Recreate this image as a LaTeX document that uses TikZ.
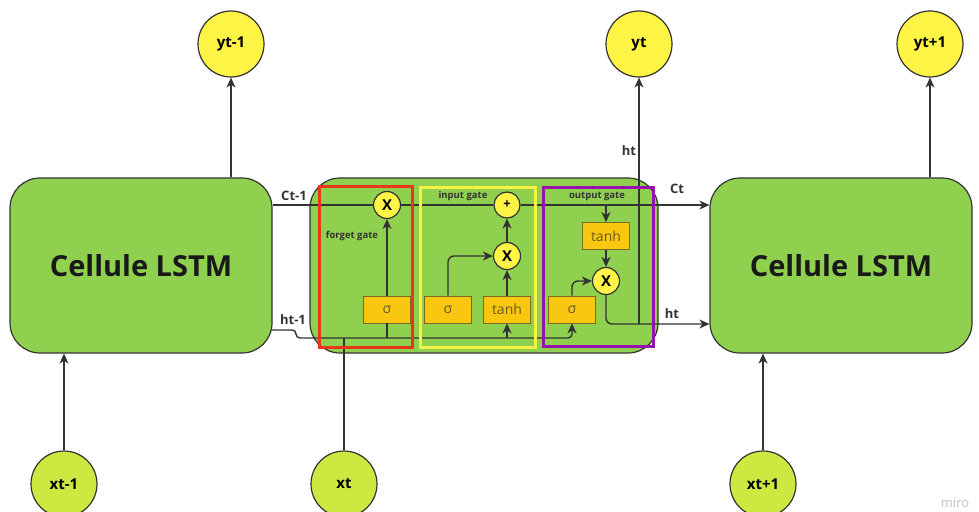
\documentclass[tikz,border=0pt]{standalone}
\usepackage{fontspec}
\setmainfont{Open Sans}
\usetikzlibrary{arrows.meta}

\definecolor{cellgreen}{HTML}{8FD14F}
\definecolor{outyellow}{HTML}{FEF445}
\definecolor{inlime}{HTML}{CEE741}
\definecolor{gateorange}{HTML}{FAC710}
\definecolor{gateedge}{HTML}{7A6A1A}
\definecolor{gatetext}{HTML}{6B5A1E}
\definecolor{wirecol}{HTML}{333333}
\definecolor{framered}{HTML}{E8371D}
\definecolor{frameyellow}{HTML}{F4F345}
\definecolor{framepurple}{HTML}{9612AD}

\tikzset{
    cell/.style={draw=wirecol, fill=cellgreen, line width=1.2pt, rounded corners=30pt,
        font=\fontsize{29}{34}\selectfont\bfseries, text=black!90},
    yout/.style={circle, draw=wirecol, fill=outyellow, line width=1.2pt, minimum size=66pt,
        inner sep=0pt, font=\fontsize{15}{18}\selectfont\bfseries},
    xin/.style={yout, fill=inlime},
    gatebox/.style={draw=gateedge, fill=gateorange, line width=0.8pt, minimum width=47pt,
        minimum height=27pt, inner sep=0pt, text=gatetext, font=\fontsize{14}{17}\selectfont},
    op/.style={circle, draw=wirecol, fill=outyellow, line width=1.2pt, minimum size=27pt,
        inner sep=0pt, font=\fontsize{15}{18}\selectfont\bfseries},
    wire/.style={draw=wirecol, line width=1.4pt},
    wirelabel/.style={inner sep=0pt, text=wirecol, font=\fontsize{13}{16}\selectfont\bfseries},
    gatelabel/.style={inner sep=0pt, text=wirecol, font=\fontsize{9.5}{11}\selectfont\bfseries},
    gateframe/.style={line width=3pt},
}

\begin{document}
\begin{tikzpicture}[x=1pt, y=-1pt, >={Stealth[length=10pt, width=9pt, inset=3pt]}]
    \useasboundingbox (0,0) rectangle (979,511);

    % Cells
    \node[cell, minimum width=262pt, minimum height=175pt] (cprev) at (141,265.5) {Cellule LSTM};
    \node[cell, minimum width=348pt, minimum height=175pt] (ccur) at (484,265.5) {};
    \node[cell, minimum width=262pt, minimum height=175pt] (cnext) at (841,265.5) {Cellule LSTM};

    % Outputs and inputs
    \node[yout] (yprev) at (231,44) {yt-1};
    \node[yout] (ycur) at (639,44) {yt};
    \node[yout] (ynext) at (930,44) {yt+1};
    \node[xin] (xprev) at (64,484) {xt-1};
    \node[xin] (xcur) at (344,484) {xt};
    \node[xin] (xnext) at (763,484) {xt+1};

    % Gates
    \node[op] (fmul) at (387,205) {X};
    \node[gatebox] (fsig) at (387,309.5) {σ};
    \node[op, minimum size=26pt, font=\fontsize{13}{16}\selectfont\bfseries] (add) at (507,205) {+};
    \node[op] (imul) at (507,256) {X};
    \node[gatebox] (isig) at (448,309.5) {σ};
    \node[gatebox] (itanh) at (507,309.5) {tanh};
    \node[gatebox] (otanh) at (606,236) {tanh};
    \node[op] (omul) at (606,281) {X};
    \node[gatebox] (osig) at (572,309.5) {σ};

    \coordinate (hprev) at (272,330);
    \coordinate (hbus) at (296,338);
    \coordinate (hout) at (639,324);

    % Cell state
    \draw[wire] (fmul -| cprev.east) -- (fmul);
    \draw[wire] (fmul) -- (add);
    \draw[wire, ->] (add) -- (add -| cnext.west);
    \node[wirelabel] (lcprev) at (294,196) {Ct-1};
    \node[wirelabel] (lcnext) at (677,189) {Ct};

    % Hidden state and input
    \draw[wire, ->, rounded corners=4pt] (hprev) -- (hprev -| hbus) -- (hbus) -- (hbus -| osig) -- (osig.south);
    \draw[wire] (fsig.south) -- (fsig.south |- hbus);
    \draw[wire] (xcur) -- (xcur |- hbus);
    \draw[wire, ->] (itanh.south |- hbus) -- (itanh.south);
    \node[wirelabel] (lhprev) at (293,320) {ht-1};

    % Forget gate
    \draw[wire, ->] (fsig) -- (fmul);

    % Input gate
    \draw[wire, ->, rounded corners=6pt] (isig.north) -- (isig.north |- imul) -- (imul);
    \draw[wire, ->] (itanh) -- (imul);
    \draw[wire, ->] (imul) -- (add);

    % Output gate
    \draw[wire, ->] (otanh.north |- add) -- (otanh);
    \draw[wire, ->] (otanh) -- (omul);
    \draw[wire, ->, rounded corners=6pt] (osig.north) -- (osig.north |- omul) -- (omul);
    \draw[wire, ->, rounded corners=6pt] (omul) -- (omul |- hout) -- (hout -| cnext.west);
    \draw[wire, ->] (hout) -- (ycur);
    \node[wirelabel] (lhcur) at (672,314) {ht};
    \node[wirelabel] (lhup) at (629,151) {ht};

    % Other cells
    \draw[wire, ->] (yprev |- cprev.north) -- (yprev);
    \draw[wire, ->] (ynext |- cnext.north) -- (ynext);
    \draw[wire, ->] (xprev) -- (xprev |- cprev.south);
    \draw[wire, ->] (xnext) -- (xnext |- cnext.south);

    % Gate frames
    \draw[gateframe, draw=framered] (319,186) rectangle (412,347);
    \draw[gateframe, draw=frameyellow] (420,187) rectangle (535,347);
    \draw[gateframe, draw=framepurple] (543,187) rectangle (653,346);
    \node[gatelabel] (lforget) at (352,236) {forget gate};
    \node[gatelabel] (linput) at (463,196) {input gate};
    \node[gatelabel] (loutput) at (597,196) {output gate};

    \node[text=black!25, font=\fontsize{13}{16}\selectfont] (miro) at (955,503) {miro};
\end{tikzpicture}
\end{document}
